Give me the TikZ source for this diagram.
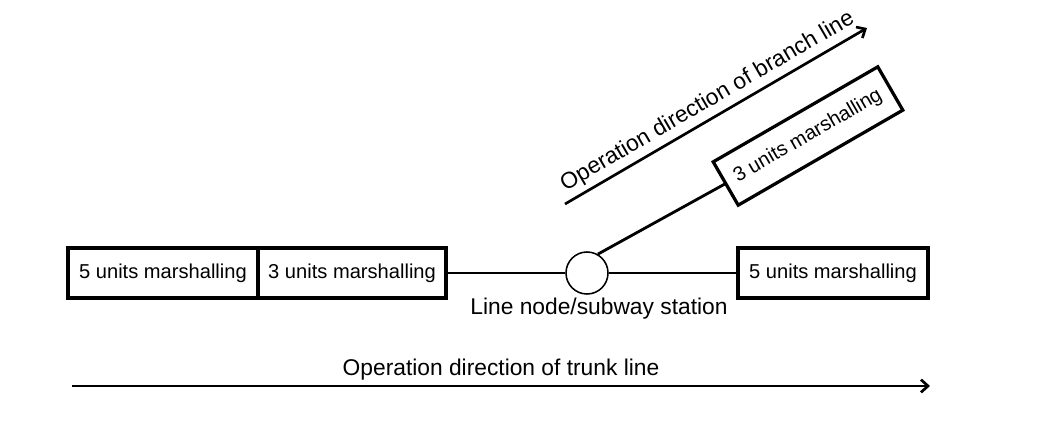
\documentclass[tikz,border=0pt]{standalone}
\usepackage{fontspec}
\setmainfont{Liberation Sans}
\usetikzlibrary{arrows, positioning, arrows.meta}

\begin{document}
\begin{tikzpicture}[x=0.025cm, y=0.025cm, font=\fontsize{14.3}{16}\selectfont,
    unitbox/.style={draw, line width=2.3pt, outer sep=0pt, inner sep=0pt, minimum width=4.75cm, minimum height=1.25cm},
    label/.style={font=\fontsize{16.2}{18}\selectfont},
    track/.style={line width=2pt},
    direction/.style={line width=1.9pt, arrows = {-Straight Barb[length=5pt, width=9pt]}}]
    \useasboundingbox (0,0) rectangle (1050,422);
    % Nodes
    \node[unitbox] (five1) at (163,149) {5 units marshalling};
    \node[unitbox, minimum width=4.7cm, right=0pt of five1] (three1) {3 units marshalling};
    \node[draw, circle, line width=1.1pt, minimum size=1.05cm] (station) at (587,149) {};
    \node[unitbox] (five2) at (833,149) {5 units marshalling};
    \node[unitbox, rotate=30] (three2) at (808,286) {3 units marshalling};
    \node[label] (stationlabel) at (599,113) {Line node/subway station};
    \coordinate (trunkstart) at (72,36);
    \coordinate (trunkend) at (930,36);
    \coordinate (branchstart) at (565,218);
    \coordinate (branchend) at (867,394);

    % Connections
    \draw[track] (three1.east) -- (station.west);
    \draw[track] (station.east) -- (five2.west);
    \draw[track] (station.60) -- (three2.west);
    \draw[direction] (trunkstart) -- node[label, midway, above] {Operation direction of trunk line} (trunkend);
    \draw[direction] (branchstart) -- node[label, pos=0.5, above, sloped] {Operation direction of branch line} (branchend);
\end{tikzpicture}
\end{document}
